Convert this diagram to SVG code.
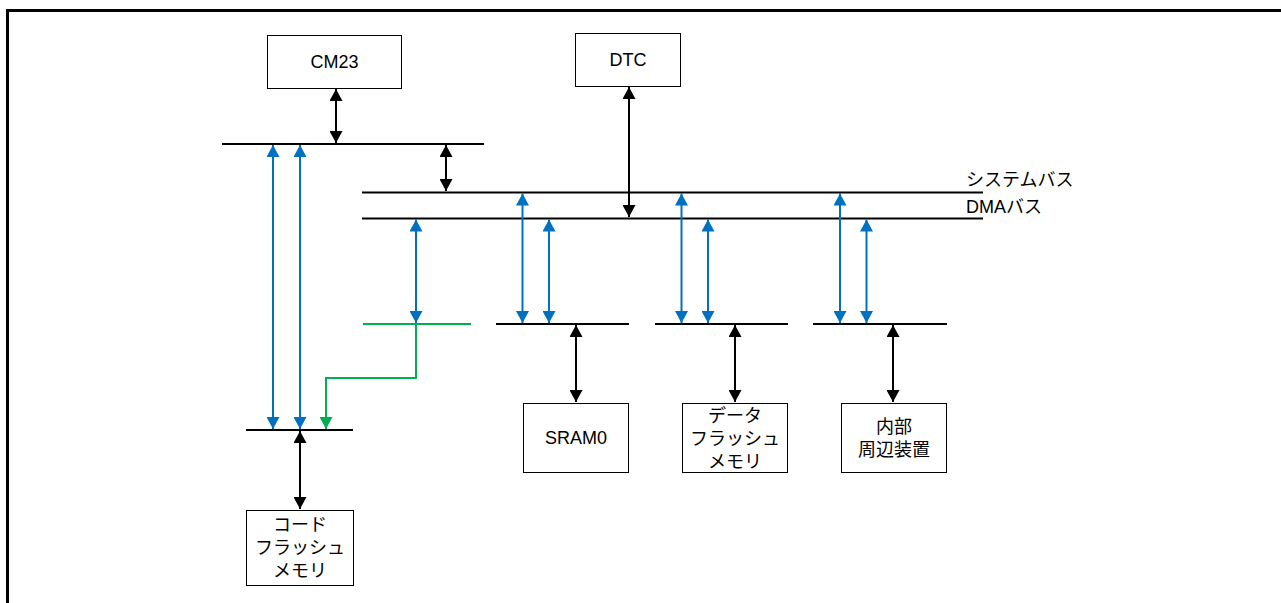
<svg xmlns="http://www.w3.org/2000/svg" width="1281" height="603" viewBox="0 0 1281 603">
<style>
.box{fill:#fff;stroke:#000;stroke-width:1}
.t{font-family:"Liberation Sans","Noto Sans CJK JP",sans-serif;font-size:18px;fill:#000}
.bus{stroke:#000;stroke-width:2;fill:none}
.k{stroke:#000;stroke-width:2;fill:none;marker-start:url(#ak);marker-end:url(#ak)}
.b{stroke:#0070C0;stroke-width:2;fill:none;marker-start:url(#ab);marker-end:url(#ab)}
.g{stroke:#00B050;stroke-width:2;fill:none}
</style>
<defs>
<marker id="ak" viewBox="0 0 12 13" refX="12" refY="6.5" markerWidth="12" markerHeight="13" markerUnits="userSpaceOnUse" orient="auto-start-reverse"><path d="M0,0 L12,6.5 L0,13 z" fill="#000"/></marker>
<marker id="ab" viewBox="0 0 12 13" refX="12" refY="6.5" markerWidth="12" markerHeight="13" markerUnits="userSpaceOnUse" orient="auto-start-reverse"><path d="M0,0 L12,6.5 L0,13 z" fill="#0070C0"/></marker>
<marker id="ag" viewBox="0 0 12 13" refX="12" refY="6.5" markerWidth="12" markerHeight="13" markerUnits="userSpaceOnUse" orient="auto"><path d="M0,0 L12,6.5 L0,13 z" fill="#00B050"/></marker>
</defs>
<rect width="1281" height="603" fill="#fff"/>
<rect x="7.5" y="10.5" width="1400" height="700" fill="none" stroke="#000" stroke-width="3"/>

<g id="buses">
<line class="bus" x1="222" y1="144" x2="484" y2="144"/>
<line class="bus" x1="362" y1="192.5" x2="983" y2="192.5"/>
<line class="bus" x1="362" y1="218.5" x2="983" y2="218.5"/>
<line class="bus" x1="496" y1="324" x2="629" y2="324"/>
<line class="bus" x1="655" y1="324" x2="788" y2="324"/>
<line class="bus" x1="813" y1="324" x2="947" y2="324"/>
<line class="bus" x1="246" y1="430" x2="353" y2="430"/>
<line class="g" x1="363" y1="324" x2="471" y2="324"/>
<text class="t" x="966" y="186">システムバス</text>
<text class="t" x="966" y="213">DMAバス</text>
</g>

<g id="connectors">
<line class="k" x1="336" y1="89" x2="336" y2="143"/>
<line class="k" x1="446" y1="145" x2="446" y2="191"/>
<line class="k" x1="629" y1="87" x2="629" y2="217"/>
<line class="b" x1="273" y1="145" x2="273" y2="429"/>
<line class="b" x1="300" y1="145" x2="300" y2="429"/>
<line class="b" x1="416" y1="219.5" x2="416" y2="323"/>
<line class="b" x1="522.5" y1="193.5" x2="522.5" y2="323"/>
<line class="b" x1="549" y1="219.5" x2="549" y2="323"/>
<line class="b" x1="681.5" y1="193.5" x2="681.5" y2="323"/>
<line class="b" x1="708" y1="219.5" x2="708" y2="323"/>
<line class="b" x1="840" y1="193.5" x2="840" y2="323"/>
<line class="b" x1="866.5" y1="219.5" x2="866.5" y2="323"/>
<polyline class="g" points="416,324 416,378 326,378 326,429" marker-end="url(#ag)"/>
<line class="k" x1="576" y1="325" x2="576" y2="402"/>
<line class="k" x1="735" y1="325" x2="735" y2="402"/>
<line class="k" x1="893" y1="325" x2="893" y2="402"/>
<line class="k" x1="300" y1="431" x2="300" y2="509"/>
</g>

<g id="cm23"><rect class="box" x="267.5" y="35.5" width="134" height="53"/><text class="t" x="334.5" y="68" text-anchor="middle">CM23</text></g>
<g id="dtc"><rect class="box" x="575.5" y="33.5" width="105" height="53"/><text class="t" x="628" y="66" text-anchor="middle">DTC</text></g>
<g id="sram0"><rect class="box" x="523.5" y="403.5" width="105" height="69"/><text class="t" x="576" y="444" text-anchor="middle">SRAM0</text></g>
<g id="dataflash"><rect class="box" x="682.5" y="403.5" width="105" height="69"/><text class="t" x="735" text-anchor="middle"><tspan x="735" y="421.5">データ</tspan><tspan x="735" y="444.5">フラッシュ</tspan><tspan x="735" y="467.5">メモリ</tspan></text></g>
<g id="periph"><rect class="box" x="841.5" y="403.5" width="105" height="69"/><text class="t" x="894" text-anchor="middle"><tspan x="894" y="432.5">内部</tspan><tspan x="894" y="455.5">周辺装置</tspan></text></g>
<g id="codeflash"><rect class="box" x="246.5" y="510.5" width="107" height="75"/><text class="t" x="300" text-anchor="middle"><tspan x="300" y="531">コード</tspan><tspan x="300" y="554">フラッシュ</tspan><tspan x="300" y="577">メモリ</tspan></text></g>
</svg>
